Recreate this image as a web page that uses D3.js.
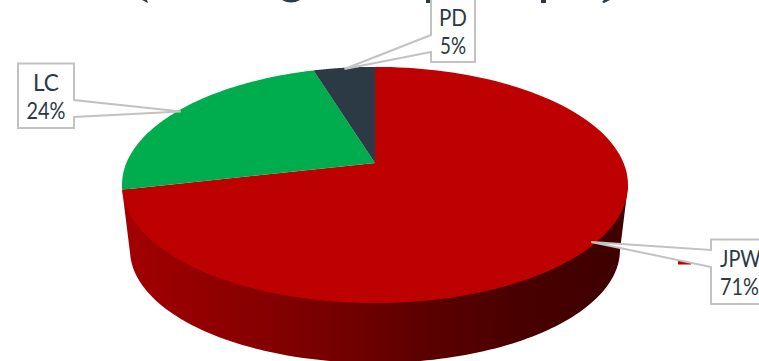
<!DOCTYPE html>
<html>
<head>
<meta charset="utf-8">
<script src="https://cdn.jsdelivr.net/npm/d3@7/dist/d3.min.js"></script>
<style>
html,body{margin:0;padding:0;background:#fff;overflow:hidden}
svg{display:block}
text{font-family:Lato,"Open Sans",sans-serif}
</style>
</head>
<body>
<svg id="c" width="759" height="361"></svg>
<script>
const categories = ["JPW", "LC", "PD"];
const values = [71.4, 23.9, 4.7];
const colors = ["#bd0000", "#00ad4e", "#2b3a44"];
const wallStops = ["#a20000", "#8e0000", "#780000", "#5c0000", "#480000", "#3e0000"];

const W = 759, H = 361, P = 0.186, TAU = Math.PI * 2;
const topPlane = {x0: 375, y0: 163, a: 248.6, b: 114};
const botPlane = {x0: 375, y0: 229, a: 240.7, b: 109};
const project = (pl, t, r = 1) => {
  const X = r * Math.sin(t), Y = -r * Math.cos(t), d = 1 - P * Y;
  return [pl.x0 + pl.a * X / d, pl.y0 + pl.b * Y / d];
};
const arcPts = (pl, a0, a1, r = 1) => d3.range(0, 121).map(i => project(pl, a0 + (a1 - a0) * i / 120, r));
const line = d3.line();

const svg = d3.select("#c");
const slices = d3.pie().sort(null).value(d => d).startAngle(0).endAngle(TAU)(values);

const defs = svg.append("defs");
const grad = defs.append("linearGradient").attr("id", "wall")
  .attr("gradientUnits", "userSpaceOnUse").attr("x1", 125).attr("x2", 625).attr("y1", 0).attr("y2", 0);
wallStops.forEach((c, i) => grad.append("stop").attr("offset", i / (wallStops.length - 1)).attr("stop-color", c));

// clipped title fragments at the top edge
const titleInk = "#2b3a44";
const g0 = svg.append("g").attr("fill", titleInk);
g0.append("path").attr("d", "M142,0 L147,0 L148,3 L146,2 Z");
g0.append("path").attr("d", "M282,0 Q291,5 300,0 Z");
g0.append("rect").attr("x", 426).attr("y", 0).attr("width", 5).attr("height", 3);
g0.append("rect").attr("x", 541).attr("y", 0).attr("width", 5).attr("height", 3);
g0.append("path").attr("d", "M604,0 L610,0 L604,3 L602,2 Z");

// red swatch behind the JPW connector
svg.append("rect").attr("x", 678).attr("y", 260).attr("width", 13).attr("height", 4.5).attr("fill", colors[0]);

// side wall of the front slice (tucked slightly under the top surface, outer ends kept on the rim)
const wallFrom = 1.76, wallTo = slices[0].endAngle;
const wallTop = [project(topPlane, wallFrom)].concat(arcPts(topPlane, wallFrom, wallTo, 0.97), [project(topPlane, wallTo)]);
const wallBot = arcPts(botPlane, wallFrom, wallTo).reverse();
svg.append("path").attr("d", line(wallTop.concat(wallBot)) + "Z").attr("fill", "url(#wall)");

// top surface
svg.selectAll("path.slice").data(slices).enter().append("path").attr("class", "slice")
  .attr("fill", (d, i) => colors[i])
  .attr("d", d => line([[topPlane.x0, topPlane.y0]].concat(arcPts(topPlane, d.startAngle, d.endAngle))) + "Z");

// callouts
const boxes = [
  {x: 711, y: 239.5, w: 80, h: 64.5, side: "left", n0: 250, n1: 267, tx: 720, anchor: "start", len: [41, 39], base: [267, 295]},
  {x: 18, y: 63.5, w: 56, h: 64.5, side: "right", n0: 100, n1: 117, tx: 46, anchor: "middle", len: [26, 39], base: [91, 119]},
  {x: 431, y: -4, w: 44, h: 66, side: "left", n0: 35, n1: 52, tx: 453, anchor: "middle", len: [28, 26], base: [26, 54]}
];
slices.forEach((s, i) => {
  const b = boxes[i], mid = (s.startAngle + s.endAngle) / 2, tip = project(topPlane, mid, 0.985);
  const r = b.x + b.w, e = b.y + b.h;
  const pts = b.side === "left"
    ? [[b.x, b.y], [r, b.y], [r, e], [b.x, e], [b.x, b.n1], tip, [b.x, b.n0]]
    : [[b.x, b.y], [r, b.y], [r, b.n0], tip, [r, b.n1], [r, e], [b.x, e]];
  svg.append("path").attr("d", line(pts) + "Z").attr("fill", "#fff").attr("stroke", "#c2c2c2").attr("stroke-width", 2);
  [categories[i], d3.format(".0f")(values[i]) + "%"].forEach((t, j) => {
    svg.append("text").text(t).attr("x", b.tx).attr("y", b.base[j])
      .attr("text-anchor", b.anchor).attr("font-size", 24).attr("fill", "#2b3a44")
      .attr("textLength", b.len[j]).attr("lengthAdjust", "spacingAndGlyphs");
  });
});
</script>
</body>
</html>
